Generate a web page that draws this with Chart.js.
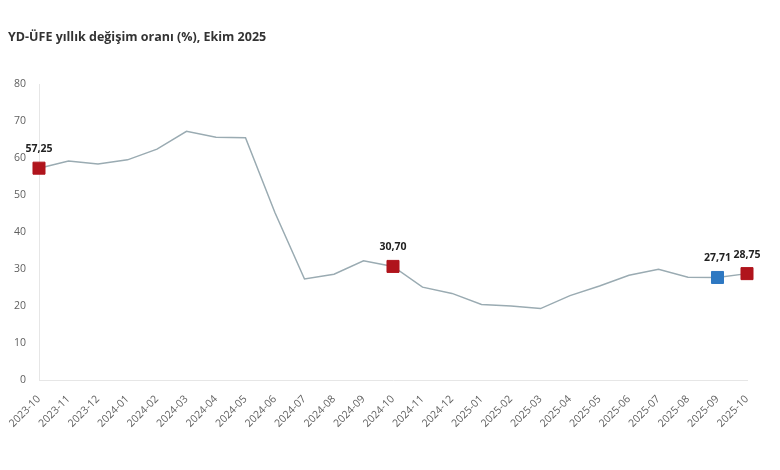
<!DOCTYPE html>
<html>
<head>
<meta charset="utf-8">
<script src="https://cdn.jsdelivr.net/npm/chart.js@4/dist/chart.umd.min.js"></script>
<style>
  html, body { margin: 0; padding: 0; background: #fff; }
  #wrap { width: 780px; height: 470px; position: relative; }
</style>
</head>
<body>
<div id="wrap"><canvas id="ufeChart"></canvas></div>
<script>
var months = ['2023-10', '2023-11', '2023-12', '2024-01', '2024-02', '2024-03', '2024-04',
    '2024-05', '2024-06', '2024-07', '2024-08', '2024-09', '2024-10', '2024-11', '2024-12',
    '2025-01', '2025-02', '2025-03', '2025-04', '2025-05', '2025-06', '2025-07', '2025-08',
    '2025-09', '2025-10'];
var rates = [57.25, 59.2, 58.4, 59.5, 62.4, 67.2, 65.6, 65.5, 45.2, 27.3, 28.6, 32.2, 30.70,
    25.1, 23.4, 20.4, 20.0, 19.3, 22.8, 25.4, 28.3, 29.9, 27.8, 27.71, 28.75];
// points that get a square marker and a value label
var highlighted = { 0: '#b0141c', 12: '#b0141c', 23: '#2e78c2', 24: '#b0141c' };
var yTicks = [0, 10, 20, 30, 40, 50, 60, 70, 80];

var pointColors = rates.map(function (v, i) { return highlighted[i] || 'rgba(0,0,0,0)'; });
var pointSizes = rates.map(function (v, i) { return highlighted[i] ? 8.5 : 0; });

var valueLabels = {
    id: 'valueLabels',
    afterDatasetsDraw: function (chart) {
        var ctx = chart.ctx;
        var meta = chart.getDatasetMeta(0);
        ctx.save();
        ctx.font = 'bold 10.5px "Open Sans", sans-serif';
        ctx.fillStyle = '#222';
        ctx.textAlign = 'center';
        ctx.textBaseline = 'middle';
        Object.keys(highlighted).forEach(function (k) {
            var p = meta.data[k];
            var txt = rates[k].toFixed(2).replace('.', ',');
            ctx.fillText(txt, p.x, p.y - 19);
        });
        ctx.restore();
    }
};

var titleText = {
    id: 'titleText',
    afterDraw: function (chart) {
        var ctx = chart.ctx;
        ctx.save();
        ctx.font = 'bold 12.5px "Open Sans", sans-serif';
        ctx.fillStyle = '#333';
        ctx.textAlign = 'left';
        ctx.textBaseline = 'middle';
        ctx.fillText('YD-ÜFE yıllık değişim oranı (%), Ekim 2025', 8, 37);
        ctx.restore();
    }
};

var ctx = document.getElementById('ufeChart').getContext('2d');
var myChart = new Chart(ctx, {
    type: 'line',
    data: {
        labels: months,
        datasets: [{
            data: rates,
            borderColor: '#9aabb2',
            borderWidth: 1.5,
            tension: 0,
            fill: false,
            pointStyle: 'rect',
            pointRadius: pointSizes,
            pointHoverRadius: pointSizes,
            pointBackgroundColor: pointColors,
            pointBorderColor: pointColors,
            pointBorderWidth: 1
        }]
    },
    options: {
        responsive: true,
        maintainAspectRatio: false,
        animation: false,
        layout: { padding: { top: 84, right: 33, left: 0, bottom: 0 } },
        plugins: {
            legend: { display: false },
            tooltip: { enabled: false }
        },
        scales: {
            x: {
                offset: false,
                grid: { display: false },
                border: { display: true, color: '#e6e6e6', width: 1 },
                ticks: {
                    minRotation: 45,
                    maxRotation: 45,
                    autoSkip: false,
                    padding: 5,
                    color: '#5f5f5f',
                    font: { family: '"Open Sans", sans-serif', size: 10.5 }
                },
                afterFit: function (s) { s.height = 90; }
            },
            y: {
                min: 0,
                max: 80,
                afterBuildTicks: function (s) { s.ticks = yTicks.map(function (v) { return { value: v }; }); },
                grid: { display: false, drawTicks: false },
                border: { display: true, color: '#e6e6e6', width: 1 },
                ticks: {
                    padding: 13,
                    color: '#5f5f5f',
                    font: { family: '"Open Sans", sans-serif', size: 10.5 }
                },
                afterFit: function (s) { s.width = 39; }
            }
        }
    },
    plugins: [valueLabels, titleText]
});
</script>
</body>
</html>
